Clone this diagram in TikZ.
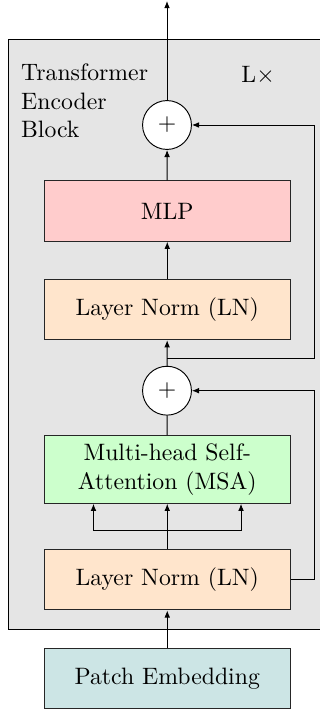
\documentclass[tikz,border=0pt]{standalone}
\usetikzlibrary{arrows.meta,positioning}
\begin{document}
\begin{tikzpicture}[x=0.4215pt,y=-0.4215pt,
  blk/.style={draw=black!85,minimum width=103.5pt,minimum height=25.5pt,inner sep=0pt,align=center},
  addop/.style={draw,circle,fill=white,minimum size=20.6pt,inner sep=0pt},
  arr/.style={-{Latex[length=3pt,width=2.4pt]}}]
\useasboundingbox (0,0) rectangle (320,709);
\clip (0,0) rectangle (320,709);
\fill[white] (0,0) rectangle (320,709);
\node[draw,fill=gray!20,minimum width=137pt,minimum height=248.7pt,inner sep=0pt,anchor=north west] (enc) at (7.5,39) {};
\node[anchor=north west,inner sep=0pt,align=left] (title) at (20.7,63.5) {Transformer\\Encoder\\Block};
\node[anchor=base west,inner sep=0pt] (lx) at (241,82.7) {L$\times$};
\node[addop] (add2) at (167,125) {$+$};
\node[blk,fill=red!20] (mlp) at (167.25,211) {MLP};
\node[blk,fill=orange!20] (ln2) at (167.25,309.5) {Layer Norm (LN)};
\node[addop] (add1) at (167,390.7) {$+$};
\node[blk,fill=green!20,minimum height=28.5pt] (msa) at (167.25,469.5) {Multi-head Self-\\Attention (MSA)};
\node[blk,fill=orange!20] (ln1) at (167.25,579.7) {Layer Norm (LN)};
\node[blk,fill=teal!20] (pe) at (167.25,678.5) {Patch Embedding};
\coordinate (out) at (167,1);
\coordinate (split) at (167,530.7);
\coordinate (skipA) at (167,358.3);
\coordinate (rx) at (314.3,0);
\draw[arr] (pe) -- (ln1);
\draw[arr] (ln1) -- (msa);
\draw[arr] (split) -| ([xshift=-31.1pt]msa.south);
\draw[arr] (split) -| ([xshift=31.1pt]msa.south);
\draw (msa) -- (add1);
\draw[arr] (ln1.east) -- (ln1.east -| rx) |- (add1.east);
\draw[arr] (add1) -- (ln2);
\draw[arr] (skipA) -- (skipA -| rx) |- (add2.east);
\draw[arr] (ln2) -- (mlp);
\draw[arr] (mlp) -- (add2);
\draw[arr] (add2) -- (out);
\end{tikzpicture}
\end{document}
